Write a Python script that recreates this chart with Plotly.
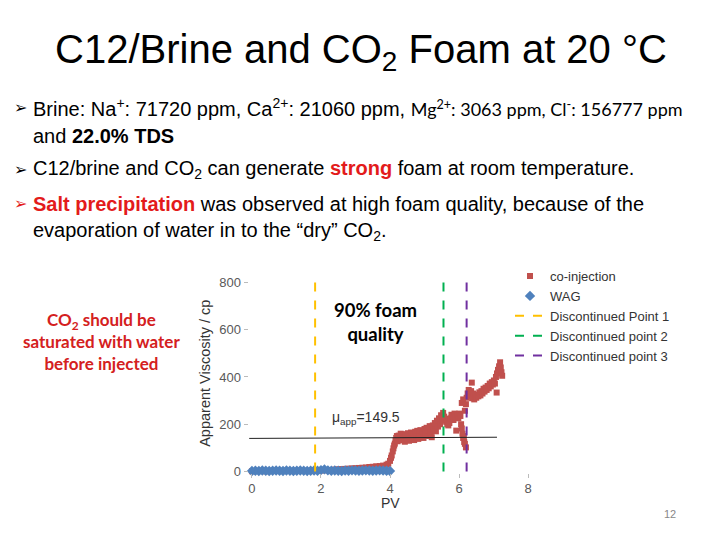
import plotly.graph_objects as go

# co-injection series (PV, apparent viscosity in cp)
coinj_pv = [0.0, 0.2, 0.4, 0.6, 0.8, 1.0, 1.2, 1.4, 1.6, 1.8, 2.0, 2.2,
            2.3, 2.4, 2.5, 2.6, 2.7, 2.8, 2.9, 3.0, 3.1, 3.2, 3.3, 3.4, 3.5, 3.6, 3.7, 3.8, 3.9, 3.95,
            4.0, 4.03, 4.05, 4.08, 4.1, 4.12, 4.14, 4.16, 4.18, 4.2,
            4.22, 4.25, 4.28, 4.31, 4.34, 4.37, 4.40, 4.43, 4.46, 4.49, 4.52, 4.55, 4.58, 4.61,
            4.64, 4.67, 4.70, 4.73, 4.76, 4.79, 4.82, 4.85, 4.88, 4.91, 4.94, 4.97, 5.00, 5.03,
            5.06, 5.09, 5.12, 5.15, 5.18, 5.21, 5.24, 5.27, 5.30, 5.33, 5.36, 5.39, 5.42, 5.45,
            5.48, 5.51, 5.54, 5.57,
            5.60, 5.63, 5.66, 5.69, 5.72, 5.75, 5.78, 5.81, 5.84, 5.87, 5.90, 5.92, 5.95, 5.98,
            6.01, 6.04, 6.06,
            6.08, 6.10, 6.12, 6.15, 6.17, 6.20, 6.14,
            6.08, 6.12, 6.17, 6.20, 6.22, 6.25, 6.28, 6.37,
            6.32, 6.35, 6.38, 6.41, 6.44, 6.47, 6.50, 6.53, 6.56, 6.59, 6.62, 6.65, 6.68, 6.71,
            6.74, 6.77, 6.80, 6.83, 6.86, 6.89, 6.92, 6.95, 6.98, 7.01, 7.04, 7.07, 7.09, 7.10,
            7.13, 7.16, 7.19, 7.21, 7.23, 7.25]
coinj_mu = [1, 2, 1, 2, 2, 3, 2, 3, 3, 4, 4, 5,
            6, 8, 9, 10, 11, 12, 13, 14, 15, 16, 17, 19, 20, 22, 23, 25, 29, 33,
            45, 58, 68, 85, 98, 110, 118, 132, 142, 150,
            128, 152, 140, 160, 132, 155, 145, 126, 158, 138, 162, 130, 150, 165,
            140, 158, 133, 168, 148, 172, 138, 160, 175, 150, 170, 142, 180, 160,
            185, 150, 175, 192, 165, 145, 195, 175, 205, 170, 215, 190, 225, 200,
            238, 215, 248, 232,
            222, 210, 200, 195, 205, 225, 240, 232, 218, 245, 230, 173, 238, 225,
            245, 235, 200,
            182, 160, 142, 125, 117, 102, 150,
            290, 305, 257, 285, 312, 330, 345, 376,
            320, 340, 310, 330, 305, 318, 312, 325, 318, 335, 322, 340, 330, 350,
            338, 355, 345, 362, 352, 372, 360, 378, 368, 385, 372, 400, 334, 415,
            430, 445, 462, 440, 420, 405]

# WAG series
wag_pv = [0.0, 0.1, 0.2, 0.3, 0.4, 0.5, 0.6, 0.7, 0.8, 0.9, 1.0, 1.1, 1.2, 1.3,
          1.4, 1.5, 1.6, 1.7, 1.8, 1.9, 2.0, 2.1, 2.2, 2.3, 2.4, 2.5, 2.6, 2.7,
          2.8, 2.9, 3.0, 3.1, 3.2, 3.3, 3.4, 3.5, 3.6, 3.7, 3.8, 3.9, 4.0]
wag_mu = [2, 3, 2, 4, 3, 2, 3, 4, 3, 2, 4, 3, 2, 3,
          4, 3, 2, 3, 4, 3, 6, 9, 5, 3, 4, 3, 2, 4,
          3, 5, 4, 3, 4, 5, 4, 3, 4, 5, 4, 3, 2]

# discontinued points
disc_names = ["Discontinued Point 1", "Discontinued point 2", "Discontinued point 3"]
disc_pv = [1.83, 5.55, 6.22]
disc_colors = ["#FFC000", "#00B050", "#7030A0"]
disc_span = [0, 800]

# average viscosity line
avg_pv = [-0.08, 7.1]
avg_mu = [140, 145]
avg_label = "μ<sub>app</sub>=149.5"

xticks = [0, 2, 4, 6, 8]
yticks = [0, 200, 400, 600, 800]

W, H = 720, 540


def px(x):
    return x / W


def py(y):
    return 1 - y / H


fig = go.Figure()
fig.add_trace(go.Scatter(x=coinj_pv, y=coinj_mu, mode="markers", name="co-injection",
                         marker=dict(symbol="square", size=6, color="#C0504D"),
                         cliponaxis=False))
fig.add_trace(go.Scatter(x=wag_pv, y=wag_mu, mode="markers", name="WAG",
                         marker=dict(symbol="diamond", size=8, color="#4F81BD"),
                         cliponaxis=False))
for name, xv, col in zip(disc_names, disc_pv, disc_colors):
    fig.add_trace(go.Scatter(x=[xv, xv], y=disc_span, mode="lines", name=name,
                             line=dict(color=col, width=2, dash="dash")))
fig.add_trace(go.Scatter(x=avg_pv, y=avg_mu, mode="lines", showlegend=False,
                         line=dict(color="#222222", width=1)))

axis_font = dict(family="Liberation Sans, Arial", size=13, color="#595959")
fig.update_xaxes(domain=[px(248.5), px(538.4)], range=[-0.1, 8.3], tickvals=xticks,
                 showgrid=False, zeroline=False, showline=False,
                 ticks="outside", ticklen=4, tickcolor="#BBBBBB", tickfont=axis_font)
fig.update_yaxes(domain=[py(478.0), py(278.4)], range=[-5, 830], tickvals=yticks,
                 showgrid=False, zeroline=False, showline=False,
                 ticks="outside", ticklen=4, tickcolor="#BBBBBB", tickfont=axis_font)

body = "Liberation Sans, Arial"
red = "#E31B1B"
anns = [
    dict(x=px(361), y=py(53), text="C12/Brine and CO<sub>2</sub> Foam at 20 °C",
         xanchor="center", yanchor="middle", font=dict(family=body, size=40, color="black")),
    dict(x=px(31), y=py(109), xanchor="left", yanchor="middle",
         text="Brine: Na<sup>+</sup>: 71720 ppm, Ca<sup>2+</sup>: 21060 ppm, "
              "<span style='font-family:Lato;font-size:18px'>Mg<sup>2+</sup>: 3063 ppm, "
              "Cl<sup>-</sup>: 156777 ppm</span>",
         font=dict(family=body, size=20, color="black")),
    dict(x=px(31), y=py(138), xanchor="left", yanchor="middle",
         text="and <b>22.0% TDS</b>", font=dict(family=body, size=20, color="black")),
    dict(x=px(31), y=py(171), xanchor="left", yanchor="middle",
         text="C12/brine and CO<sub>2</sub> can generate "
              "<b><span style='color:%s'>strong</span></b> foam at room temperature." % red,
         font=dict(family=body, size=20, color="black")),
    dict(x=px(31), y=py(206), xanchor="left", yanchor="middle",
         text="<b><span style='color:%s'>Salt precipitation</span></b> was observed at high "
              "foam quality, because of the" % red,
         font=dict(family=body, size=20, color="black")),
    dict(x=px(31), y=py(234), xanchor="left", yanchor="middle",
         text="evaporation of water in to the “dry” CO<sub>2</sub>.",
         font=dict(family=body, size=20, color="black")),
    dict(x=px(101), y=py(345), xanchor="center", yanchor="middle",
         text="<b>CO<sub>2</sub> should be<br>saturated with water<br>before injected</b>",
         font=dict(family="Lato", size=17, color="#D42020")),
    dict(x=px(375), y=py(326), xanchor="center", yanchor="middle",
         text="<b>90% foam<br>quality</b>", font=dict(family="Lato", size=18.5, color="black")),
    dict(x=3.3, y=225, xref="x", yref="y", xanchor="center", yanchor="middle",
         text=avg_label, font=dict(family=body, size=14, color="#333333")),
    dict(x=px(205), y=py(378), xanchor="center", yanchor="middle", textangle=-90,
         text="Apparent Viscosity / cp", font=dict(family=body, size=14.5, color="#333333")),
    dict(x=px(390), y=py(509), xanchor="center", yanchor="middle",
         text="PV", font=dict(family=body, size=14, color="#333333")),
    dict(x=px(670), y=py(520), xanchor="center", yanchor="middle",
         text="12", font=dict(family=body, size=11, color="#888888")),
]
for yb, col in [(109, "black"), (171, "black"), (206, red)]:
    anns.append(dict(x=px(20), y=py(yb), xanchor="center", yanchor="middle", text="➢",
                     font=dict(family="DejaVu Sans", size=16, color=col)))
for a in anns:
    a.setdefault("xref", "paper")
    a.setdefault("yref", "paper")
    a["showarrow"] = False
    fig.add_annotation(**a)

fig.update_layout(
    width=W, height=H, margin=dict(l=0, r=0, t=0, b=0),
    paper_bgcolor="white", plot_bgcolor="white",
    showlegend=True,
    legend=dict(x=px(510), y=py(264), xanchor="left", yanchor="top",
                bgcolor="rgba(0,0,0,0)", font=dict(family=body, size=13, color="#333333"),
                itemwidth=30),
)

fig.write_html("out.html", config={"displayModeBar": False},
               post_script="document.body.style.margin='0';")
